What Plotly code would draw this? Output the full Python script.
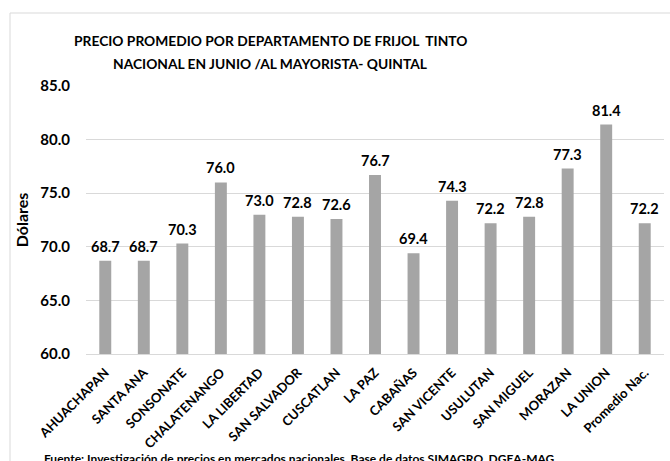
import plotly.graph_objects as go

departamentos = ["AHUACHAPAN", "SANTA ANA", "SONSONATE", "CHALATENANGO", "LA LIBERTAD",
                 "SAN SALVADOR", "CUSCATLAN", "LA PAZ", "CABAÑAS", "SAN VICENTE",
                 "USULUTAN", "SAN MIGUEL", "MORAZAN", "LA UNION", "Promedio Nac."]
precios = [68.7, 68.7, 70.3, 76.0, 73.0, 72.8, 72.6, 76.7, 69.4, 74.3, 72.2, 72.8, 77.3, 81.4, 72.2]
y_ticks = [60.0, 65.0, 70.0, 75.0, 80.0, 85.0]
titulo = ["PRECIO PROMEDIO POR DEPARTAMENTO DE FRIJOL  TINTO",
          "NACIONAL EN JUNIO /AL MAYORISTA- QUINTAL"]
fuente = "Fuente: Investigación de precios en mercados nacionales. Base de datos SIMAGRO, DGEA-MAG"

W, H = 670, 461
L, R, T, B = 86, 6, 86, 107
PW, PH = W - L - R, H - T - B

def px(x):
    return (x - L) / PW

def py(y):
    return 1 - (y - T) / PH

FONT = "Lato"

fig = go.Figure(go.Bar(
    x=departamentos,
    y=precios,
    marker=dict(color="#a5a5a5", line=dict(width=0)),
    hoverinfo="x+y",
))

# value labels sitting a little above each bar
for cat, val in zip(departamentos, precios):
    fig.add_annotation(
        x=cat, y=val, xref="x", yref="y",
        text=f"{val:.1f}", showarrow=False,
        xanchor="center", yanchor="bottom", yshift=4,
        font=dict(family=FONT, size=14.5, color="#000000", weight="bold"),
    )

fig.update_layout(
    width=W, height=H,
    margin=dict(l=L, r=R, t=T, b=B),
    paper_bgcolor="white", plot_bgcolor="white",
    bargap=0.69,
    showlegend=False,
    font=dict(family=FONT, color="#000000"),
    xaxis=dict(
        tickangle=-45,
        tickfont=dict(family=FONT, size=13, color="#000000", weight="bold"),
        showline=True, linecolor="#d9d9d9", linewidth=1,
        ticks="", showgrid=False, ticklabelstandoff=5,
    ),
    yaxis=dict(
        range=[60, 85],
        tickvals=y_ticks,
        ticktext=[f"{v:.1f}" for v in y_ticks],
        tickfont=dict(family=FONT, size=15, color="#000000", weight="bold"),
        showgrid=True, gridcolor="#d9d9d9", gridwidth=1,
        zeroline=False, ticks="", ticklabelstandoff=15,
        title=dict(text="Dólares", font=dict(family=FONT, size=16, weight="bold"), standoff=7),
    ),
    shapes=[dict(
        type="rect", xref="paper", yref="paper",
        x0=px(10), x1=px(W + 20), y0=py(13), y1=py(H + 20),
        line=dict(color="#d9d9d9", width=1), fillcolor="rgba(0,0,0,0)", layer="below",
    )],
)

# two-line chart heading
for linea, ypix in zip(titulo, [41, 63]):
    fig.add_annotation(
        text=linea, xref="paper", yref="paper", x=px(270), y=py(ypix),
        xanchor="center", yanchor="middle", showarrow=False,
        font=dict(family=FONT, size=13.8, color="#000000", weight="bold"),
    )

fig.add_annotation(
    text=fuente,
    xref="paper", yref="paper", x=px(42), y=py(458), xanchor="left", yanchor="middle",
    showarrow=False,
    font=dict(family=FONT, size=12, color="#000000", weight="bold"),
)

fig.write_html("out.html")
